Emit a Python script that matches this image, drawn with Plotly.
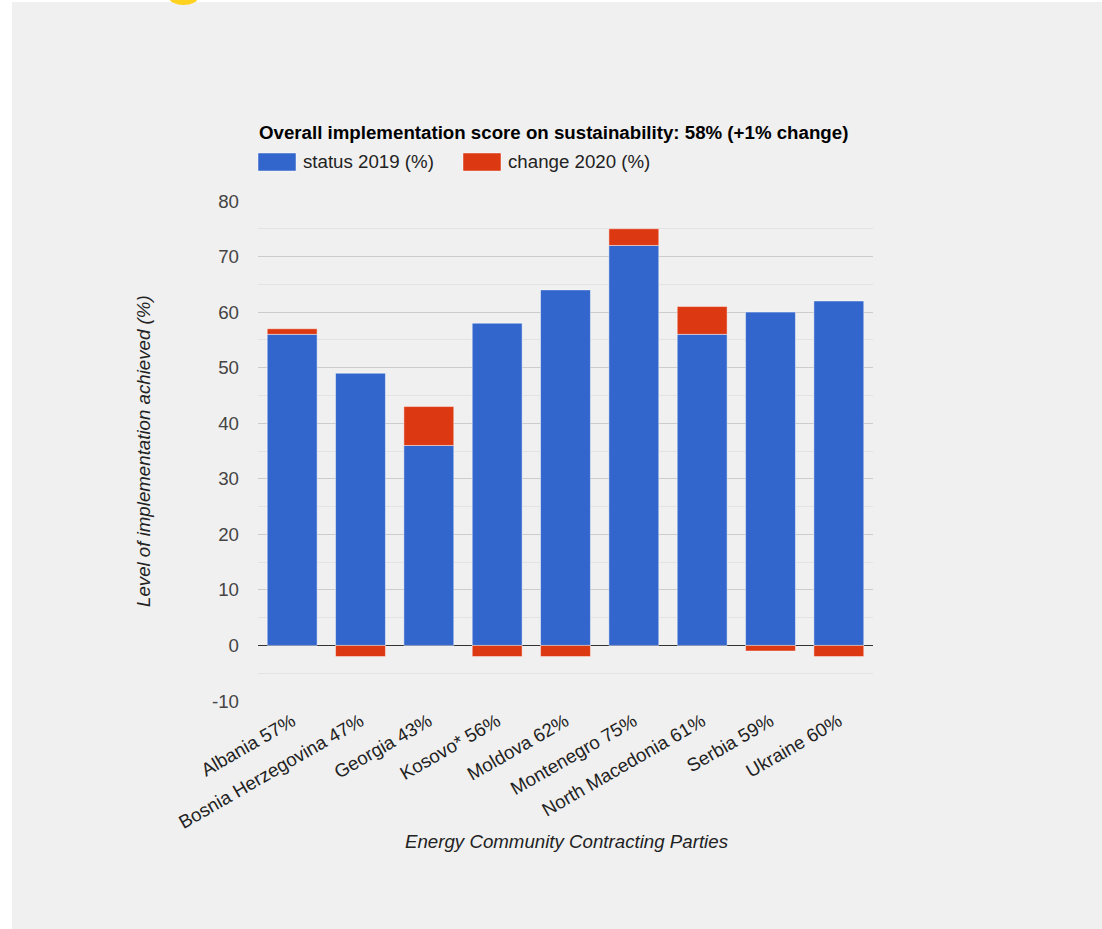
import plotly.graph_objects as go

categories = ["Albania 57%", "Bosnia Herzegovina 47%", "Georgia 43%", "Kosovo* 56%",
              "Moldova 62%", "Montenegro 75%", "North Macedonia 61%", "Serbia 59%", "Ukraine 60%"]
status_2019 = [56, 49, 36, 58, 64, 72, 56, 60, 62]
change_2020 = [1, -2, 7, -2, -2, 3, 5, -1, -2]
y_ticks = [-10, 0, 10, 20, 30, 40, 50, 60, 70, 80]
y_tick_labels = ["-10", "0", "10", "20", "30", "40", "50", "60", "70", "80"]

BLUE = "#3366cc"
RED = "#dc3912"
FONT = "Liberation Sans, Arial, sans-serif"
FS = 18.7

W, H = 1102, 929
L, R, T, B = 258, 873, 201, 701

fig = go.Figure()
fig.add_trace(go.Bar(x=categories, y=status_2019, name="status 2019 (%)",
                     marker=dict(color=BLUE, line=dict(color="rgba(255,255,255,0.45)", width=1)),
                     showlegend=False))
fig.add_trace(go.Bar(x=categories, y=change_2020, name="change 2020 (%)",
                     marker=dict(color=RED, line=dict(color="rgba(255,255,255,0.45)", width=1)),
                     showlegend=False))

pw, ph = R - L, B - T
def px(x):
    return (x - L) / pw
def py(y):
    return (B - y) / ph

shapes = [
    dict(type="rect", xref="paper", yref="paper", x0=px(12), x1=px(W + 5), y0=py(2), y1=py(H + 5),
         fillcolor="#f0f0f0", line=dict(width=0), layer="below"),
    dict(type="circle", xref="paper", yref="paper", x0=px(169), x1=px(198), y0=py(-10), y1=py(5),
         fillcolor="#ffd21f", line=dict(width=0), layer="below"),
    dict(type="rect", xref="paper", yref="paper", x0=px(258), x1=px(296), y0=py(153), y1=py(171),
         fillcolor=BLUE, line=dict(color="rgba(255,255,255,0.45)", width=1)),
    dict(type="rect", xref="paper", yref="paper", x0=px(463), x1=px(501), y0=py(153), y1=py(171),
         fillcolor=RED, line=dict(color="rgba(255,255,255,0.45)", width=1)),
]

annotations = [
    dict(text="<b>Overall implementation score on sustainability: 58% (+1% change)</b>",
         xref="paper", yref="paper", x=px(257), y=py(132), xanchor="left", yanchor="middle",
         showarrow=False, font=dict(family=FONT, size=FS, color="#000000")),
    dict(text="status 2019 (%)", xref="paper", yref="paper", x=px(301), y=py(162),
         xanchor="left", yanchor="middle", showarrow=False,
         font=dict(family=FONT, size=FS, color="#222222")),
    dict(text="change 2020 (%)", xref="paper", yref="paper", x=px(506), y=py(162),
         xanchor="left", yanchor="middle", showarrow=False,
         font=dict(family=FONT, size=FS, color="#222222")),
    dict(text="<i>Energy Community Contracting Parties</i>", xref="paper", yref="paper",
         x=px(566), y=py(841), xanchor="center", yanchor="middle", showarrow=False,
         font=dict(family=FONT, size=FS, color="#222222")),
    dict(text="<i>Level of implementation achieved (%)</i>", xref="paper", yref="paper",
         x=px(143), y=py(451), xanchor="center", yanchor="middle", showarrow=False, textangle=-90,
         font=dict(family=FONT, size=FS, color="#222222")),
]

fig.update_layout(
    width=W, height=H,
    margin=dict(l=L, r=W - R, t=T, b=H - B, pad=0),
    paper_bgcolor="#ffffff",
    plot_bgcolor="rgba(0,0,0,0)",
    barmode="relative",
    bargap=0.27,
    font=dict(family=FONT, size=FS, color="#444444"),
    shapes=shapes,
    annotations=annotations,
    xaxis=dict(tickangle=-30, showgrid=False, showline=False, ticks="", ticklabelstandoff=5,
               tickfont=dict(family=FONT, size=FS, color="#222222")),
    yaxis=dict(range=[-10, 80], tickvals=y_ticks, ticktext=y_tick_labels,
               showgrid=True, gridcolor="#cccccc", gridwidth=1,
               zeroline=True, zerolinecolor="#333333", zerolinewidth=1,
               showline=False, ticks="", ticklabelstandoff=18,
               tickfont=dict(family=FONT, size=FS, color="#444444"),
               minor=dict(dtick=5, tick0=0, showgrid=True, gridcolor="#e3e3e3", gridwidth=1)),
)

fig.write_html("out.html", config={"displayModeBar": False},
               post_script="document.body.style.margin='0px';")
